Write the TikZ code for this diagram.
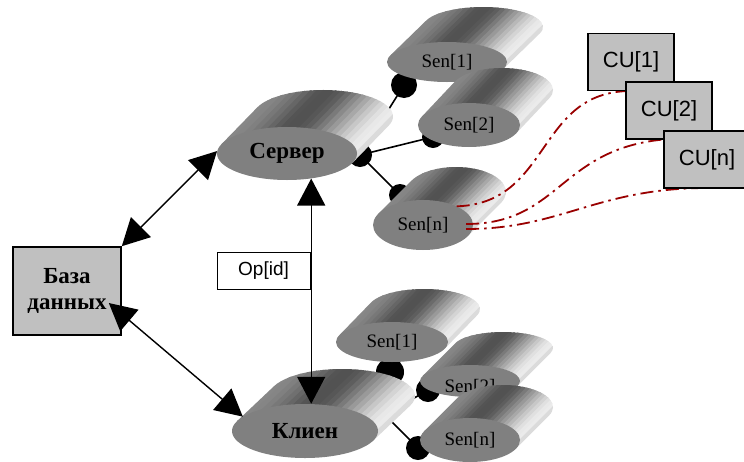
\documentclass[tikz,border=0pt]{standalone}
\usepackage{fontspec}
\setmainfont{Liberation Serif}
\setsansfont{Liberation Sans}
\usetikzlibrary{shapes.geometric,arrows.meta,calc}
\definecolor{boxgray}{HTML}{C0C0C0}
\definecolor{dred}{HTML}{990000}
\def\cylgrays{47,48,50,53,56,60,64,67,68,68,66,63,58,52,46,40,34,28,22,17,12,9,8,14}
% body of an extruded ellipse: centre (#1,#2), radii #3,#4, extrusion (#5,#6)
\newcommand{\cylbody}[6]{%
  \pgfmathsetmacro\cbA{atan2((#4)*(#5),-(#3)*(#6))}%
  \pgfmathsetmacro\cbB{\cbA-180}%
  \pgfmathsetmacro\cbD{atan2(#6,#5)}%
  \pgfmathsetmacro\cbux{cos(\cbD+90)}%
  \pgfmathsetmacro\cbuy{sin(\cbD+90)}%
  \pgfmathsetmacro\cbdx{cos(\cbD)}%
  \pgfmathsetmacro\cbdy{sin(\cbD)}%
  \pgfmathsetmacro\cbh{sqrt(((#3)*\cbux)^2+((#4)*\cbuy)^2)}%
  \begin{scope}
    \clip ({#1+(#3)*cos(\cbA)},{#2+(#4)*sin(\cbA)}) -- ++(#5,#6)
      arc[start angle=\cbA, end angle=\cbB, x radius=#3, y radius=#4]
      -- ({#1+(#3)*cos(\cbB)},{#2+(#4)*sin(\cbB)}) -- cycle;
    \foreach \g [count=\k from 0] in \cylgrays {
      \pgfmathsetmacro\sa{-\cbh+2*\cbh*\k/24-0.6}
      \pgfmathsetmacro\sb{-\cbh+2*\cbh*(\k+1)/24+0.6}
      \fill[black!\g] ({#1+\sa*\cbux-200*\cbdx},{#2+\sa*\cbuy-200*\cbdy})
        -- ({#1+\sb*\cbux-200*\cbdx},{#2+\sb*\cbuy-200*\cbdy})
        -- ({#1+\sb*\cbux+200*\cbdx},{#2+\sb*\cbuy+200*\cbdy})
        -- ({#1+\sa*\cbux+200*\cbdx},{#2+\sa*\cbuy+200*\cbdy}) -- cycle;
    }
  \end{scope}}
% full cylinder: name, cx, cy, a, b, dx, dy, label style, label
\newcommand{\cyl}[9]{%
  \cylbody{#2}{#3}{#4}{#5}{#6}{#7}%
  \node[frontell, #8, minimum width={2*#4pt}, minimum height={2*#5pt}] (#1) at (#2,#3) {#9};}
\tikzset{
  frontell/.style={ellipse, fill=black!50, inner sep=0pt},
  senlbl/.style={font=\fontsize{19}{21}\selectfont},
  mainlbl/.style={font=\bfseries\fontsize{23}{26}\selectfont},
  dotc/.style={circle, fill=black, inner sep=0pt, minimum size=#1},
  wire/.style={line width=1.6pt},
  biarrow/.style={line width=1.4pt, {Triangle[length=27pt,width=28pt]}-{Triangle[length=27pt,width=28pt]}},
  cubox/.style={draw, line width=1.5pt, fill=boxgray, minimum width=86pt, minimum height=57pt, inner sep=0pt, font=\sffamily\fontsize{22}{24}\selectfont},
  basebox/.style={draw, line width=1.6pt, fill=boxgray, minimum width=108pt, minimum height=88pt, inner sep=0pt, align=center, font=\bfseries\fontsize{23}{26}\selectfont},
  opbox/.style={draw, line width=1pt, fill=white, minimum width=93pt, minimum height=37pt, inner sep=0pt, font=\sffamily\fontsize{19}{22}\selectfont},
  cuwire/.style={dred, line width=1.8pt, dash pattern=on 13pt off 5pt on 2.5pt off 5pt},
}
\begin{document}
\begin{tikzpicture}[x=1pt,y=-1pt]
\useasboundingbox (0,0) rectangle (744,461);
% ---------- connection dots (behind everything) ----------
\node[dotc=24pt] (s0) at (360,155) {};
\node[dotc=26pt] (t1) at (404,85) {};
\node[dotc=22pt] (t2) at (433,137) {};
\node[dotc=22pt] (tn) at (400,195) {};
\node[dotc=20pt] (k0) at (385,415) {};
\node[dotc=28pt] (b1) at (390,372) {};
\node[dotc=24pt] (b2) at (428,390) {};
\node[dotc=24pt] (bn) at (418,448) {};
\draw[wire] (s0.center) -- (t1.center);
\draw[wire] (s0.center) -- (t2.center);
\draw[wire] (s0.center) -- (tn.center);
\draw[wire] (k0.center) -- (b1.center);
\draw[wire] (k0.center) -- (b2.center);
\draw[wire] (k0.center) -- (bn.center);
% ---------- cylinders ----------
\cyl{server}{287}{153.5}{70}{26.5}{36}{-37}{mainlbl}{Сервер}
\cyl{senA}{447}{62}{60}{20}{36}{-35}{senlbl}{Sen[1]}
\cyl{senB}{469}{125}{51}{22}{33}{-35}{senlbl}{Sen[2]}
\cyl{senN}{423}{225}{50}{25}{33}{-33}{senlbl}{Sen[n]}
\cyl{senC}{392}{342}{56}{20}{32}{-33}{senlbl}{Sen[1]}
\cyl{klien}{305}{431}{73}{27}{37}{-35}{mainlbl}{Клиен}
\cyl{senD}{470}{381}{50}{16}{33}{-33}{senlbl}{\raisebox{-6pt}[\height][\depth]{Sen[2]}}
\cyl{senE}{470}{440}{50}{22}{33}{-33}{senlbl}{Sen[n]}
% ---------- boxes ----------
\node[basebox] (base) at (67,291) {База\\данных};
\node[opbox] (op) at (263.5,270.5) {Op[id]};
% ---------- red wires ----------
\draw[cuwire] (senN.29) .. controls +(95,-3) and +(-95,0) .. (631,91) coordinate (cu1end);
\draw[cuwire] ($(senN.east)+(-7,-1)$) .. controls +(95,0) and +(-110,8) .. (669,139) coordinate (cu2end);
\draw[cuwire] ($(senN.east)+(-7,4)$) .. controls +(95,0) and +(-110,0) .. (707,188) coordinate (cunend);
\node[cubox] (cu1) at (631,62) {CU[1]};
\node[cubox] (cu2) at (669,110.5) {CU[2]};
\node[cubox] (cun) at (707,159.5) {CU[n]};
% ---------- arrows ----------
\draw[biarrow] (server.178) -- (base.north east);
\draw[biarrow] ($(base.east)+(-13,12)$) -- (klien.167);
\draw[biarrow] (server.-46) -- (server.-46 |- klien.north);
\end{tikzpicture}
\end{document}
